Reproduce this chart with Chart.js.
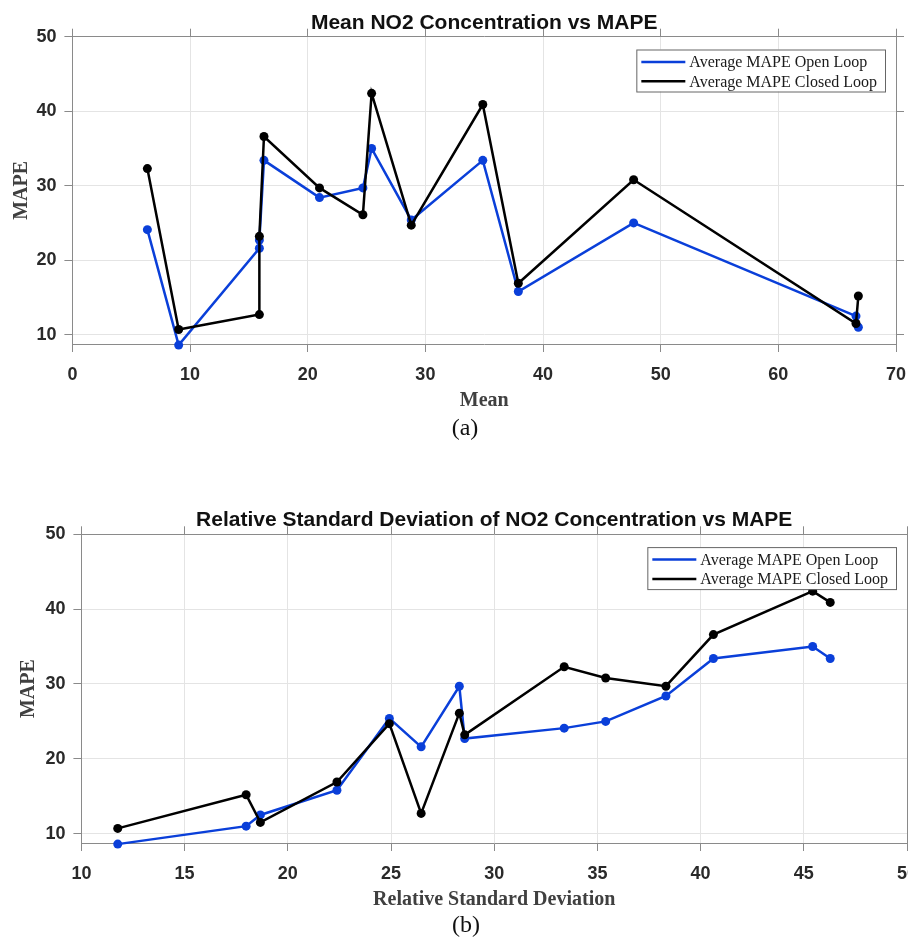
<!DOCTYPE html>
<html>
<head>
<meta charset="utf-8">
<script src="https://cdn.jsdelivr.net/npm/chart.js@4.4.1/dist/chart.umd.min.js"></script>
<style>
  html, body { margin: 0; padding: 0; background: #fff; }
  body { width: 908px; height: 938px; overflow: hidden; position: relative; }
  .panel { position: absolute; left: 0; }
  .panel canvas { display: block; }
  .caption { position: absolute; width: 100px; text-align: center; line-height: 28px;
             font-family: "Liberation Serif", "Times New Roman", serif; font-size: 24px; color: #111; }
</style>
</head>
<body>
<div class="panel" style="top:0"><canvas id="meanChart" width="930" height="417"></canvas></div>
<div class="caption" style="left:415px; top:413px">(a)</div>
<div class="panel" style="top:498px"><canvas id="rsdChart" width="940" height="418"></canvas></div>
<div class="caption" style="left:416px; top:910px">(b)</div>

<script>
// one entry per monitoring station (sorted by mean concentration)
const meanConc   = [6.37, 9.03, 15.89, 15.89, 16.28, 21.0, 24.69, 25.43, 28.8, 34.88, 37.9, 47.7, 66.6, 66.8];
const relStdDev  = [33.39, 11.76, 26.46, 28.57, 40.62, 38.32, 28.31, 45.43, 24.92, 46.28, 22.38, 35.4, 18.67, 17.98];
const mapeOpen   = [24.1, 8.6, 21.6, 22.7, 33.4, 28.4, 29.7, 35.0, 25.4, 33.4, 15.8, 25.0, 12.5, 11.0];
const mapeClosed = [32.3, 10.7, 12.7, 23.2, 36.6, 29.7, 26.1, 42.4, 24.7, 40.9, 16.9, 30.8, 11.5, 15.2];

const yTicks = [10, 20, 30, 40, 50];
const meanTicks = [0, 10, 20, 30, 40, 50, 60, 70];
const rsdTicks = [10, 15, 20, 25, 30, 35, 40, 45, 50];

const BLUE = '#0a3fd9';
const AXIS = '#8a8a8a';
const GRID = '#e4e4e4';

// legend drawn inside the plot, MATLAB style
const boxLegend = {
    id: 'boxLegend',
    afterDraw(chart) {
        const { ctx, chartArea } = chart;
        const sets = chart.data.datasets;
        ctx.save();
        ctx.font = '16px "Liberation Serif", serif';
        const textW = Math.max(...sets.map(d => ctx.measureText(d.label).width));
        const w = 53 + textW + 8;
        const h = 42;
        const x = chartArea.right - 11 - w;
        const y = chartArea.top + 12.8;
        ctx.fillStyle = '#fff';
        ctx.fillRect(x, y, w, h);
        ctx.strokeStyle = '#666';
        ctx.lineWidth = 1;
        ctx.strokeRect(x + 0.5, y + 0.5, w, h);
        sets.forEach((d, i) => {
            const ly = y + 12.4 + i * 19.4;
            ctx.strokeStyle = d.borderColor;
            ctx.lineWidth = 2.5;
            ctx.beginPath();
            ctx.moveTo(x + 5, ly);
            ctx.lineTo(x + 49, ly);
            ctx.stroke();
            ctx.fillStyle = '#1a1a1a';
            ctx.textBaseline = 'middle';
            ctx.fillText(d.label, x + 53, ly + 1);
        });
        ctx.restore();
    }
};

function makeChart(id, xVals, xTicks, xMin, xMax, cfg) {
    const idx = xVals.map((v, i) => i).sort((a, b) => xVals[a] - xVals[b]);
    const pts = ys => idx.map(i => ({ x: xVals[i], y: ys[i] }));
    const fixTicks = list => scale => { scale.ticks = list.map(v => ({ value: v })); };
    const tickFont = { family: '"Liberation Sans", Arial, sans-serif', size: 18, weight: 'bold' };
    const sideAxis = (pos, min, max, list) => ({
        type: 'linear', position: pos, min: min, max: max, display: true,
        afterBuildTicks: fixTicks(list),
        ticks: { display: false },
        grid: { drawOnChartArea: false, drawTicks: true, tickLength: 8, tickColor: AXIS },
        border: { display: true, color: AXIS, width: 1 }
    });

    return new Chart(document.getElementById(id), {
        type: 'line',
        data: {
            datasets: [
                {
                    label: 'Average MAPE Open Loop',
                    data: pts(mapeOpen),
                    borderColor: BLUE, backgroundColor: BLUE,
                    pointBackgroundColor: BLUE, pointBorderWidth: 0,
                    borderWidth: 2.5, pointRadius: 4.5, tension: 0, clip: false, order: 2
                },
                {
                    label: 'Average MAPE Closed Loop',
                    data: pts(mapeClosed),
                    borderColor: '#000', backgroundColor: '#000',
                    pointBackgroundColor: '#000', pointBorderWidth: 0,
                    borderWidth: 2.5, pointRadius: 4.5, tension: 0, clip: false, order: 1
                }
            ]
        },
        options: {
            responsive: false,
            animation: false,
            events: [],
            layout: { padding: { left: cfg.padLeft, right: cfg.padRight, top: 0, bottom: 0 } },
            plugins: {
                legend: { display: false },
                tooltip: { enabled: false },
                title: {
                    display: true,
                    fullSize: false,
                    text: cfg.title,
                    color: '#111',
                    font: { family: '"Liberation Sans", Arial, sans-serif', size: 21, weight: 'bold', lineHeight: 1.2 },
                    padding: { top: cfg.titleTop, bottom: cfg.titleBottom }
                }
            },
            scales: {
                x: {
                    type: 'linear', position: 'bottom', min: xMin, max: xMax,
                    afterBuildTicks: fixTicks(xTicks),
                    ticks: { font: tickFont, color: '#2a2a2a', padding: 12, maxRotation: 0 },
                    grid: { color: GRID, tickColor: AXIS, tickLength: 8 },
                    border: { display: true, color: AXIS, width: 1 },
                    title: {
                        display: true, text: cfg.xTitle, color: '#404040',
                        font: { family: '"Liberation Serif", "Times New Roman", serif', size: 20, weight: 'bold', lineHeight: 1.2 },
                        padding: { top: -8.6, bottom: 4 }
                    }
                },
                y: {
                    type: 'linear', position: 'left', min: 8.75, max: 50,
                    afterBuildTicks: fixTicks(yTicks),
                    ticks: { font: tickFont, color: '#2a2a2a', padding: 8 },
                    grid: { color: GRID, tickColor: AXIS, tickLength: 8 },
                    border: { display: true, color: AXIS, width: 1 },
                    title: {
                        display: true, text: 'MAPE', color: '#404040',
                        font: { family: '"Liberation Serif", "Times New Roman", serif', size: 20, weight: 'bold', lineHeight: 1.2 },
                        padding: { top: cfg.yTitleTop, bottom: cfg.yTitleBottom }
                    }
                },
                x2: sideAxis('top', xMin, xMax, xTicks),
                y2: sideAxis('right', 8.75, 50, yTicks)
            }
        },
        plugins: [boxLegend]
    });
}

makeChart('meanChart', meanConc, meanTicks, 0, 70, {
    title: 'Mean NO2 Concentration vs MAPE',
    xTitle: 'Mean',
    padLeft: 4, padRight: 26,
    titleTop: 10.4, titleBottom: -6.9,
    yTitleTop: 6, yTitleBottom: -5.6
});

makeChart('rsdChart', relStdDev, rsdTicks, 10, 50, {
    title: 'Relative Standard Deviation of NO2 Concentration vs MAPE',
    xTitle: 'Relative Standard Deviation',
    padLeft: 8, padRight: 25,
    titleTop: 9.4, titleBottom: -6.3,
    yTitleTop: 9, yTitleBottom: -3.6
});
</script>
</body>
</html>
